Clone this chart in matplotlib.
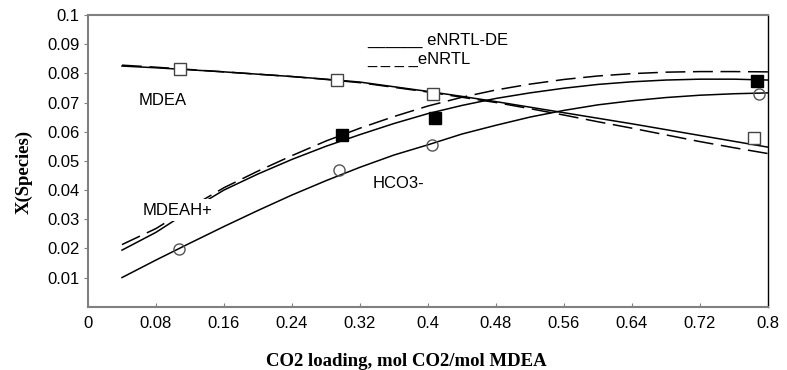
import matplotlib
matplotlib.use('Agg')
import matplotlib.pyplot as plt

plt.rcParams['font.family'] = ['Liberation Sans', 'DejaVu Sans']

# model curves (CO2 loading grid)
x_curve = [0.04, 0.08, 0.12, 0.16, 0.20, 0.24, 0.28, 0.32, 0.36, 0.40,
           0.44, 0.48, 0.52, 0.56, 0.60, 0.64, 0.68, 0.72, 0.76, 0.80]

mdea_de = [0.0825, 0.0819, 0.0812, 0.0805, 0.0797, 0.0789, 0.0780, 0.0770, 0.0754, 0.0738,
           0.0721, 0.0703, 0.0684, 0.0665, 0.0646, 0.0627, 0.0607, 0.0587, 0.0567, 0.0547]
mdea_nrtl = [0.0828, 0.0821, 0.0813, 0.0805, 0.0797, 0.0789, 0.0779, 0.0768, 0.0752, 0.0736,
             0.0718, 0.0700, 0.0679, 0.0657, 0.0634, 0.0612, 0.0589, 0.0566, 0.0545, 0.0525]

mdeah_de = [0.0194, 0.0255, 0.0330, 0.0400, 0.0455, 0.0505, 0.0550, 0.0590, 0.0628, 0.0662,
            0.0690, 0.0714, 0.0733, 0.0749, 0.0762, 0.0771, 0.0777, 0.0780, 0.0780, 0.0777]
mdeah_nrtl = [0.0213, 0.0268, 0.0340, 0.0408, 0.0465, 0.0518, 0.0568, 0.0612, 0.0652, 0.0688,
              0.0718, 0.0743, 0.0763, 0.0779, 0.0791, 0.0799, 0.0804, 0.0806, 0.0806, 0.0805]

hco3_de = [0.0100, 0.0160, 0.0218, 0.0275, 0.0330, 0.0383, 0.0432, 0.0478, 0.0520, 0.0555,
           0.0592, 0.0622, 0.0650, 0.0673, 0.0692, 0.0706, 0.0717, 0.0725, 0.0730, 0.0733]

# experimental points
x_exp_mdea = [0.108, 0.293, 0.406, 0.783]
y_exp_mdea = [0.0814, 0.0776, 0.0730, 0.0578]
x_exp_mdeah = [0.299, 0.408, 0.787]
y_exp_mdeah = [0.0588, 0.0646, 0.0775]
x_exp_hco3 = [0.107, 0.295, 0.405, 0.789]
y_exp_hco3 = [0.0198, 0.0470, 0.0555, 0.0728]

fig = plt.figure(figsize=(7.87, 3.70), dpi=100)
ax = fig.add_axes([0.1118, 0.171, 0.864, 0.7885])

dash = (0, (13, 5))
lw = 1.1
ax.plot(x_curve, mdea_de, color='black', lw=lw)
ax.plot(x_curve, mdea_nrtl, color='black', lw=lw, linestyle=dash)
ax.plot(x_curve, mdeah_de, color='black', lw=lw)
ax.plot(x_curve, mdeah_nrtl, color='black', lw=lw, linestyle=dash)
ax.plot(x_curve, hco3_de, color='black', lw=lw)

ax.plot(x_exp_mdea, y_exp_mdea, 's', ms=8, mfc='white', mec='#444444', mew=1, zorder=5)
ax.plot(x_exp_mdeah, y_exp_mdeah, 's', ms=8, mfc='black', mec='black', zorder=5)
ax.plot(x_exp_hco3, y_exp_hco3, 'o', ms=8, mfc='none', mec='#555555', mew=1, zorder=5)

# labels on the curves
ax.text(0.06, 0.0708, 'MDEA', fontsize=12, va='center')
ax.text(0.335, 0.0423, 'HCO3-', fontsize=12, va='center')
ax.text(0.064, 0.0331, 'MDEAH+', fontsize=12, va='center', zorder=6,
        bbox=dict(facecolor='white', edgecolor='none', pad=2.5))

# text legend
ax.text(0.329, 0.0899, '______ eNRTL-DE', fontsize=12, va='baseline')
ax.text(0.329, 0.0831, '_ _ _ _eNRTL', fontsize=12, va='baseline')

ax.set_xlim(0, 0.8)
ax.set_ylim(0, 0.1)
ax.set_xticks([0, 0.08, 0.16, 0.24, 0.32, 0.4, 0.48, 0.56, 0.64, 0.72, 0.8])
ax.set_xticklabels(['0', '0.08', '0.16', '0.24', '0.32', '0.4', '0.48', '0.56', '0.64', '0.72', '0.8'])
ax.set_yticks([0.01, 0.02, 0.03, 0.04, 0.05, 0.06, 0.07, 0.08, 0.09, 0.1])
ax.set_yticklabels(['0.01', '0.02', '0.03', '0.04', '0.05', '0.06', '0.07', '0.08', '0.09', '0.1'])
ax.tick_params(axis='x', direction='in', length=3, color='#808080', labelsize=12, pad=7)
ax.tick_params(axis='y', direction='out', length=3, color='#808080', labelsize=12, pad=3)

for side in ['left', 'bottom', 'top']:
    ax.spines[side].set_color('#808080')
    ax.spines[side].set_linewidth(1.5)
ax.spines['right'].set_color('black')
ax.spines['right'].set_linewidth(1.0)

ax.set_xlabel('CO2 loading, mol CO2/mol MDEA', fontsize=13.5, fontweight='bold',
              family='Liberation Serif')
ax.set_ylabel('X(Species)', fontsize=13.5, fontweight='bold', family='Liberation Serif')
ax.xaxis.set_label_coords(0.468, -0.158)
ax.yaxis.set_label_coords(-0.081, 0.462)

fig.savefig('out.png', dpi=100)
